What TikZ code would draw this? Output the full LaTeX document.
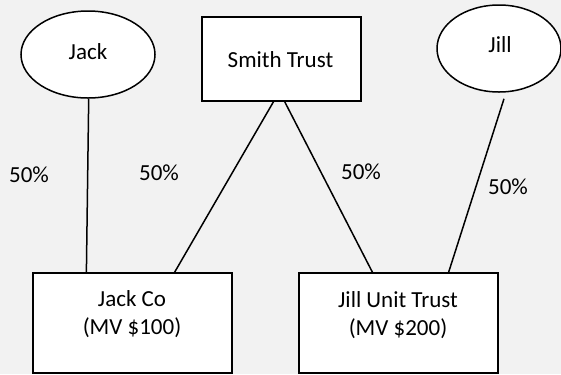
\documentclass[tikz,border=0pt]{standalone}
\usepackage{fontspec}
\setmainfont{Carlito}
\usetikzlibrary{shapes.geometric,calc}
\definecolor{bg}{HTML}{F2F2F2}
\tikzset{
  person/.style={ellipse,draw=black,fill=white,line width=1.5bp,inner sep=0pt},
  entity/.style={rectangle,draw=black,fill=white,line width=1.5bp,inner sep=0pt},
  txt/.style={font=\fontsize{23bp}{28bp}\selectfont,inner sep=0pt,align=center},
  link/.style={draw=black,line width=1.5bp},
  pct/.style={font=\fontsize{23bp}{28bp}\selectfont,inner sep=0pt}
}
\begin{document}
\begin{tikzpicture}[x=1bp,y=-1bp]
\useasboundingbox (0,0) rectangle (561,374);
\fill[bg] (0,0) rectangle (561,374);
\clip (0,0) rectangle (561,374);
% nodes
\node[person,minimum width=134bp,minimum height=87bp] (jack) at (88,54.5) {};
\node[txt] (jacktxt) at (88,52) {Jack};
\node[person,minimum width=124bp,minimum height=87bp] (jill) at (499,48.5) {};
\node[txt] (jilltxt) at (500,45) {Jill};
\node[entity,minimum width=159bp,minimum height=84bp] (smith) at (281.5,59) {};
\node[txt] (smithtxt) at (280.5,60) {Smith Trust};
\node[entity,minimum width=199bp,minimum height=100bp] (jackco) at (132.5,323) {};
\node[txt] (jackcotxt) at (132,314) {Jack Co\\(MV \$100)};
\node[entity,minimum width=199bp,minimum height=100bp] (jillut) at (398.5,323) {};
\node[txt] (jilluttxt) at (398,315) {Jill Unit Trust\\(MV \$200)};
% connectors
\draw[link] (jack.south) ++(0.7,0) -- ($(jackco.north west)!0.27!(jackco.north east)$);
\draw[link] ($(smith.south west)!0.45!(smith.south east)$) -- ($(jackco.north west)!0.71!(jackco.north east)$);
\draw[link] ($(smith.south west)!0.52!(smith.south east)$) -- ($(jillut.north west)!0.37!(jillut.north east)$);
\draw[link] ($(jill.south)+(5,6)$) -- ($(jillut.north west)!0.75!(jillut.north east)$);
% labels
\node[pct] (p1) at (29,175) {50\%};
\node[pct] (p2) at (159,173) {50\%};
\node[pct] (p3) at (361,172) {50\%};
\node[pct] (p4) at (508,187) {50\%};
\end{tikzpicture}
\end{document}
